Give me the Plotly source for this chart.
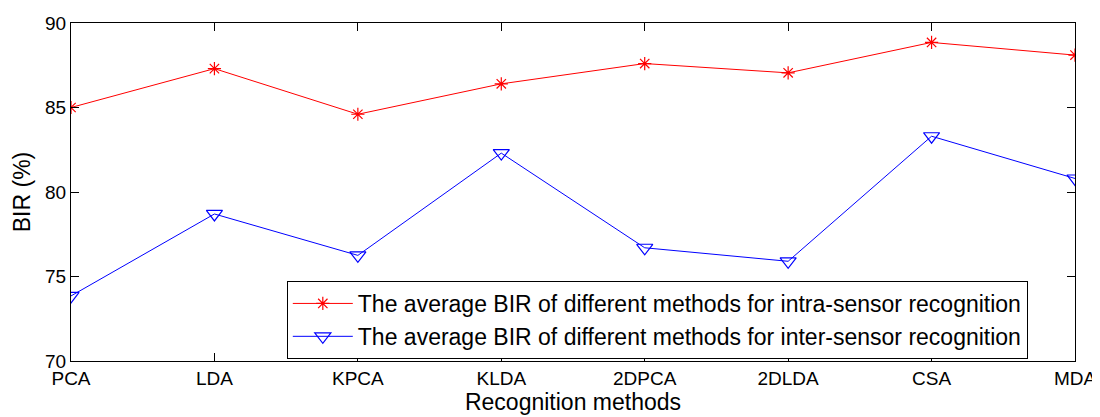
import plotly.graph_objects as go

methods = ["PCA", "LDA", "KPCA", "KLDA", "2DPCA", "2DLDA", "CSA", "MDA"]
intra = [85.0, 87.3, 84.6, 86.4, 87.6, 87.05, 88.85, 88.1]
inter = [73.85, 78.7, 76.25, 82.3, 76.7, 75.9, 83.3, 80.8]
yticks = [70, 75, 80, 85, 90]

name_intra = "The average BIR of different methods for intra-sensor recognition"
name_inter = "The average BIR of different methods for inter-sensor recognition"

fig = go.Figure()
fig.add_trace(go.Scatter(
    x=list(range(len(methods))), y=intra, mode="lines+markers", name=name_intra,
    line=dict(color="#ff0000", width=1),
    marker=dict(symbol="asterisk-open", size=11, color="#ff0000",
                line=dict(color="#ff0000", width=1.2)),
))
fig.add_trace(go.Scatter(
    x=list(range(len(methods))), y=inter, mode="lines+markers", name=name_inter,
    line=dict(color="#0000ff", width=1),
    marker=dict(symbol="triangle-down-open", size=14, color="#0000ff",
                line=dict(color="#0000ff", width=1.2)),
))

font_family = "Liberation Sans, Arial, sans-serif"
# page body has an 8px default margin, so the figure is sized/offset to compensate
fig.update_layout(
    width=1092, height=409,
    margin=dict(l=63, r=25, t=15, b=56),
    paper_bgcolor="white", plot_bgcolor="white",
    font=dict(family=font_family, size=19, color="black"),
    showlegend=True,
    legend=dict(x=0.953, y=0.006, xanchor="right", yanchor="bottom",
                bordercolor="black", borderwidth=1, bgcolor="white",
                font=dict(size=23), tracegroupgap=0, itemwidth=60),
    xaxis=dict(
        range=[0, len(methods) - 1], tickmode="array",
        tickvals=list(range(len(methods))), ticktext=methods,
        ticks="inside", ticklen=8, tickcolor="black", tickwidth=1,
        showline=True, linecolor="black", linewidth=1, mirror="ticks",
        showgrid=False, zeroline=False, automargin=False,
        title=dict(text="Recognition methods", standoff=4, font=dict(size=23)),
        tickfont=dict(size=19),
    ),
    yaxis=dict(
        range=[70, 90], tickmode="array", tickvals=yticks,
        ticks="inside", ticklen=8, tickcolor="black", tickwidth=1,
        showline=True, linecolor="black", linewidth=1, mirror="ticks",
        showgrid=False, zeroline=False, automargin=False,
        title=dict(text="BIR (%)", standoff=8, font=dict(size=23)),
        tickfont=dict(size=19),
    ),
)

fig.write_html("out.html")
